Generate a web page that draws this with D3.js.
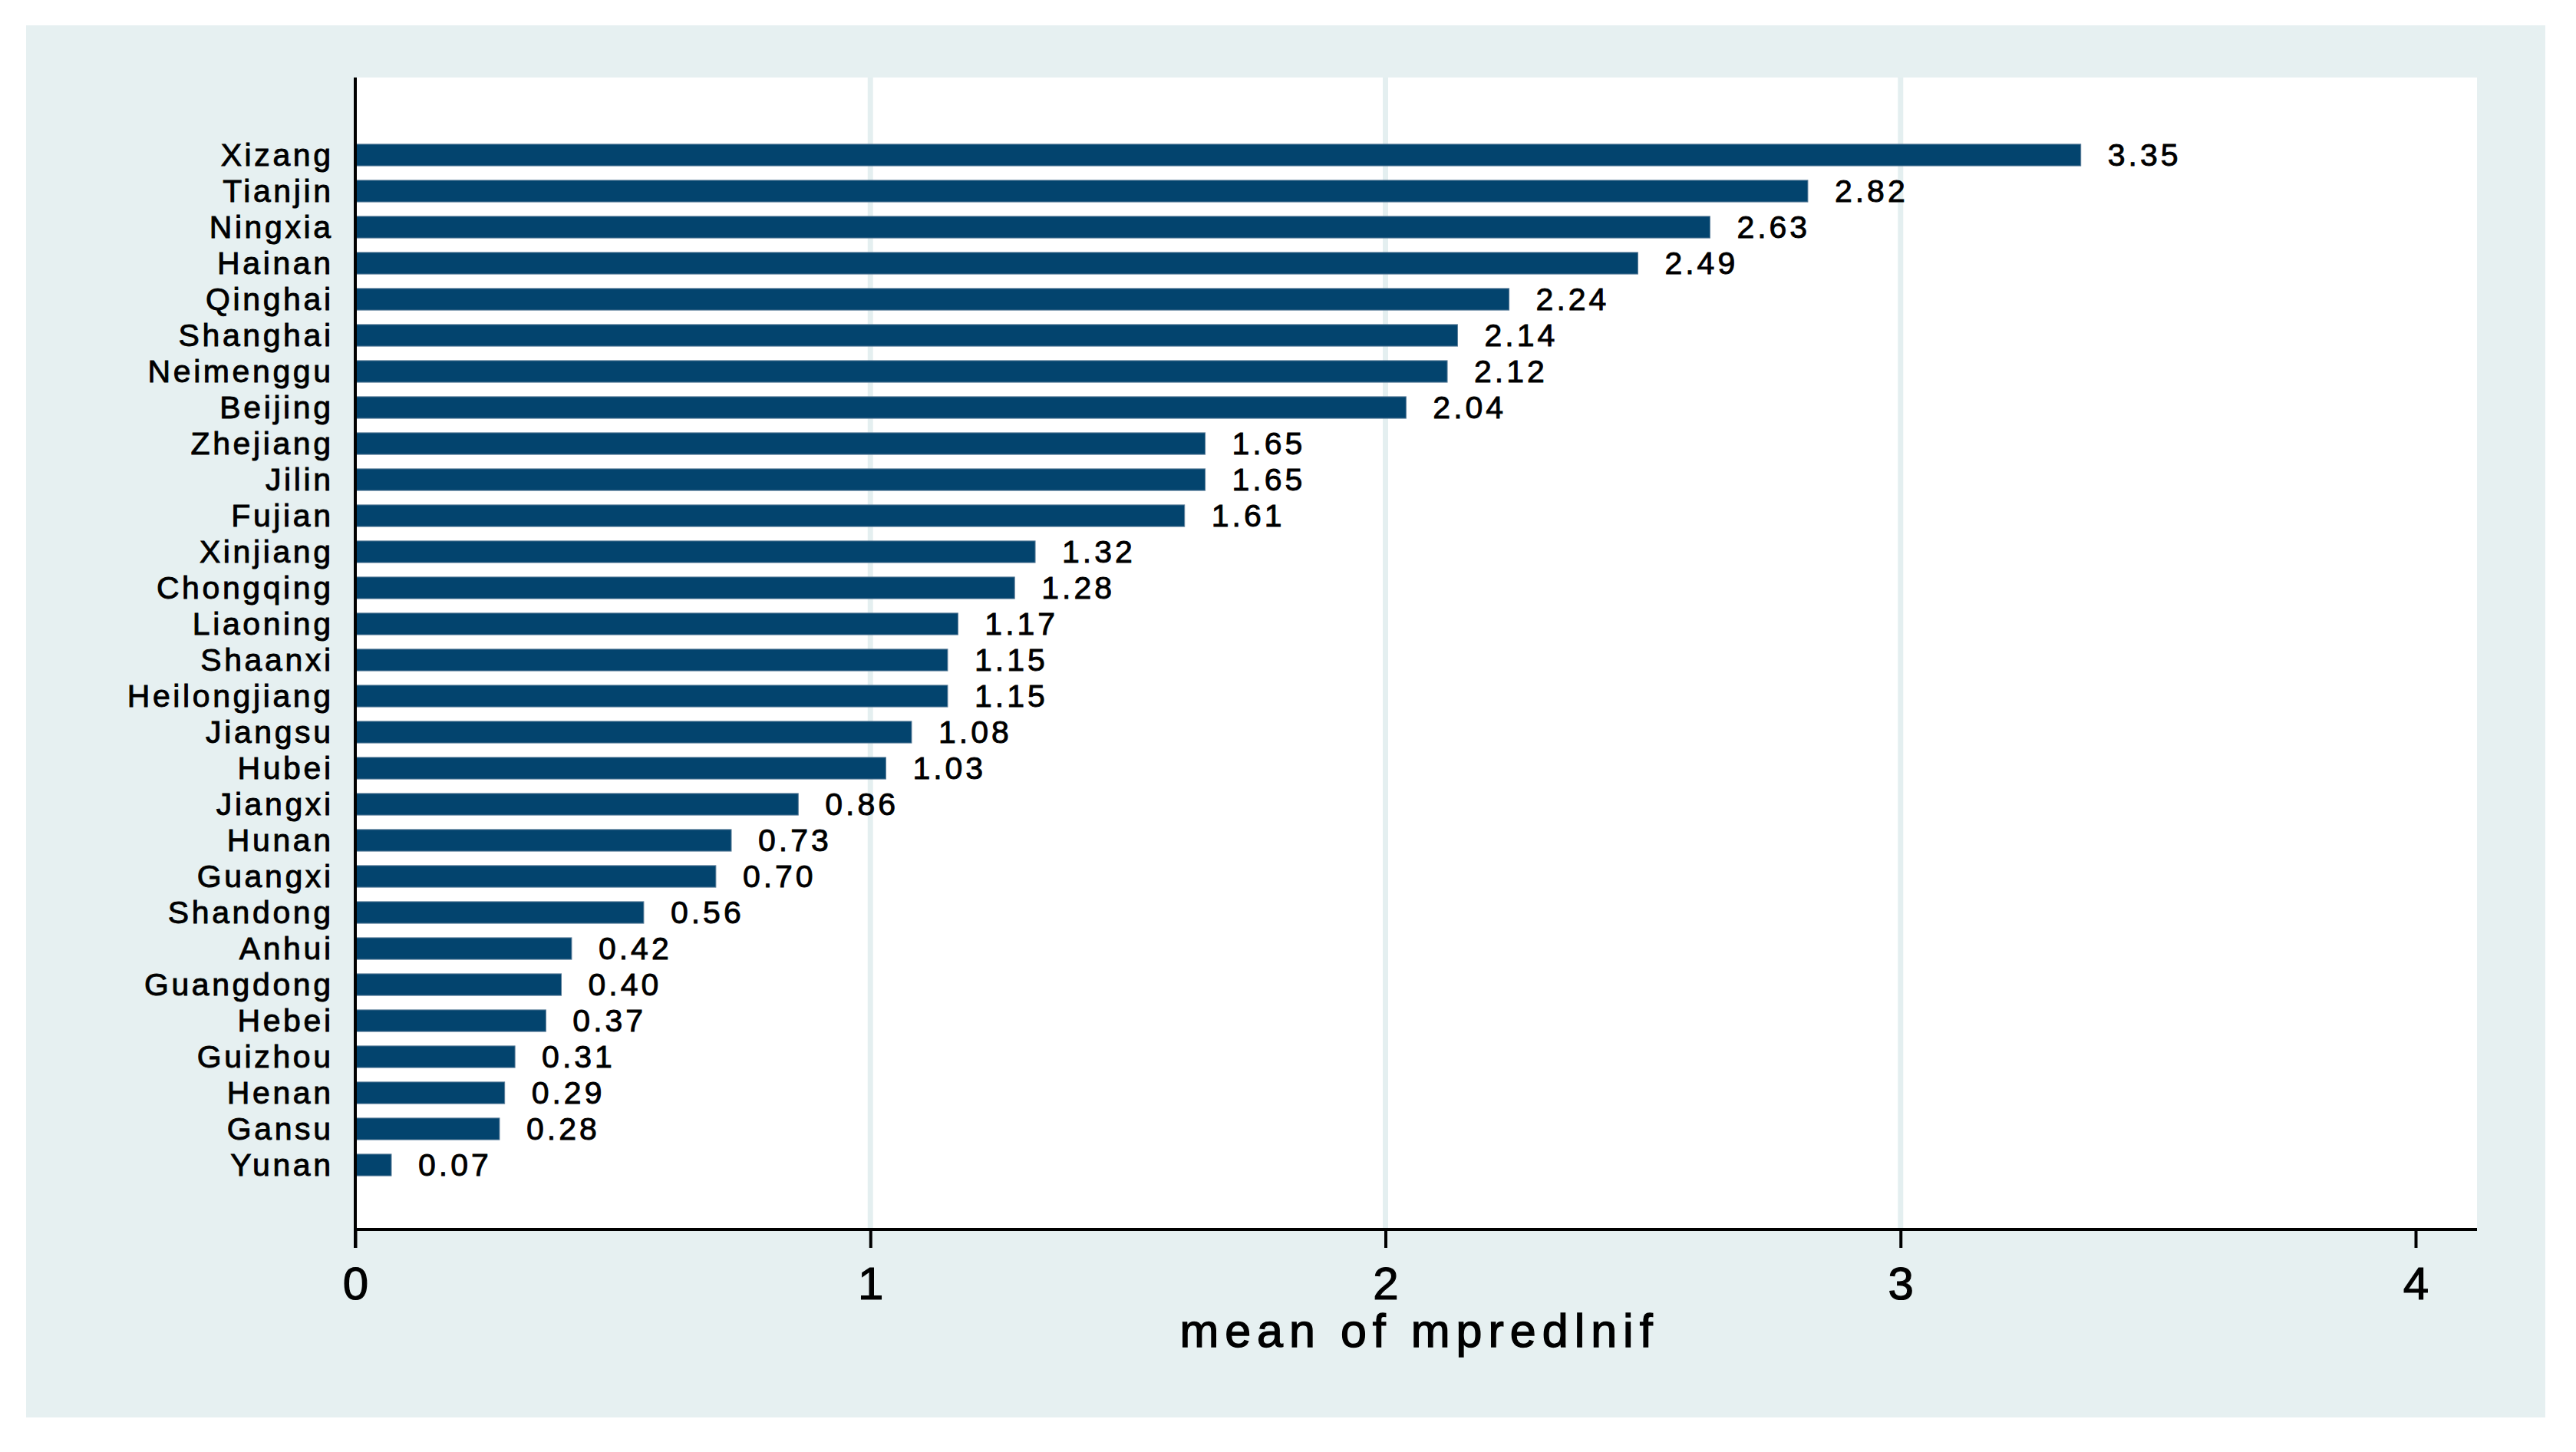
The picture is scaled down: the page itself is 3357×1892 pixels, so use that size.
<!DOCTYPE html>
<html>
<head>
<meta charset="utf-8">
<script src="https://cdn.jsdelivr.net/npm/d3@7"></script>
<style>
  html, body { margin: 0; padding: 0; background: #ffffff; }
  svg { display: block; }
  text { font-family: "Liberation Sans", Arial, sans-serif; fill: #000; }
</style>
</head>
<body>
<svg id="chart" width="3357" height="1892"></svg>
<script>
// ---- data ----
const provinces = ["Xizang","Tianjin","Ningxia","Hainan","Qinghai","Shanghai","Neimenggu","Beijing",
  "Zhejiang","Jilin","Fujian","Xinjiang","Chongqing","Liaoning","Shaanxi","Heilongjiang","Jiangsu",
  "Hubei","Jiangxi","Hunan","Guangxi","Shandong","Anhui","Guangdong","Hebei","Guizhou","Henan","Gansu","Yunan"];
const meanValues = [3.35,2.82,2.63,2.49,2.24,2.14,2.12,2.04,1.65,1.65,1.61,1.32,1.28,1.17,1.15,1.15,1.08,
  1.03,0.86,0.73,0.70,0.56,0.42,0.40,0.37,0.31,0.29,0.28,0.07];
const xTicks = [0,1,2,3,4];
const gridTicks = [1,2,3];
const xTitle = "mean of mpredlnif";

// ---- layout ----
const W = 3357, H = 1892;
const outer = {x0: 34, y0: 33, x1: 3317, y1: 1847};
const plot = {left: 463, right: 3228, top: 101, bottom: 1602};
const bgColor = "#e6f0f1";
const barColor = "#03446e";

const svg = d3.select("#chart");

svg.append("rect").attr("x", 0).attr("y", 0).attr("width", W).attr("height", H).attr("fill", "#fff");
svg.append("rect").attr("x", outer.x0).attr("y", outer.y0)
  .attr("width", outer.x1 - outer.x0).attr("height", outer.y1 - outer.y0).attr("fill", bgColor);
svg.append("rect").attr("x", plot.left).attr("y", plot.top)
  .attr("width", plot.right - plot.left).attr("height", plot.bottom - plot.top).attr("fill", "#fff");

const x = d3.scaleLinear().domain([0, 4]).range([463, 3148]);
const y = d3.scaleBand().domain(provinces).range([178.5, 1541.5]).paddingInner(0.4).paddingOuter(0.2);

// gridlines
svg.append("g").selectAll("line").data(gridTicks).join("line")
  .attr("x1", d => x(d)).attr("x2", d => x(d))
  .attr("y1", plot.top).attr("y2", plot.bottom - 2)
  .attr("stroke", "#e4eff0").attr("stroke-width", 7);

const data = provinces.map((p, i) => ({p, v: meanValues[i]}));

// bars
svg.append("g").selectAll("rect").data(data).join("rect")
  .attr("x", x(0)).attr("y", d => y(d.p))
  .attr("width", d => x(d.v) - x(0)).attr("height", y.bandwidth())
  .attr("fill", barColor).attr("stroke", "#5a7d99").attr("stroke-width", 1);

// value labels
svg.append("g").selectAll("text").data(data).join("text")
  .attr("x", d => x(d.v) + 35)
  .attr("y", d => y(d.p) + y.bandwidth() / 2 + 14)
  .attr("font-size", 41).attr("letter-spacing", "4px")
  .attr("stroke", "#000").attr("stroke-width", 0.9)
  .text(d => d.v.toFixed(2));

// category axis (left)
const yAxis = d3.axisLeft(y).tickSize(0).tickPadding(0);
const gy = svg.append("g").attr("transform", `translate(${plot.left},0)`).call(yAxis);
gy.select(".domain").remove();
gy.selectAll("text")
  .attr("font-family", "Liberation Sans, Arial, sans-serif")
  .attr("font-size", 41).attr("letter-spacing", "3.6px")
  .attr("stroke", "#000").attr("stroke-width", 0.9)
  .attr("x", -32 + 3.6).attr("dy", null).attr("y", 14)
  .attr("text-anchor", "end").attr("fill", "#000");

// left axis line
svg.append("line").attr("x1", plot.left).attr("x2", plot.left)
  .attr("y1", plot.top).attr("y2", plot.bottom + 24)
  .attr("stroke", "#000").attr("stroke-width", 4);

// bottom axis
const xAxis = d3.axisBottom(x).tickValues(xTicks).tickFormat(d3.format("d")).tickSize(24).tickSizeOuter(0);
const gx = svg.append("g").attr("transform", `translate(0,${plot.bottom})`).call(xAxis);
gx.select(".domain").attr("d", `M${plot.left},0H${plot.right}`).attr("stroke", "#000").attr("stroke-width", 4);
gx.selectAll(".tick line").attr("stroke", "#000").attr("stroke-width", 4);
gx.selectAll(".tick text")
  .attr("font-family", "Liberation Sans, Arial, sans-serif")
  .attr("font-size", 60).attr("fill", "#000")
  .attr("stroke", "#000").attr("stroke-width", 1.2)
  .attr("y", 91).attr("dy", null);

// axis title
svg.append("text")
  .attr("x", (plot.left + plot.right) / 2 + 4).attr("y", 1755)
  .attr("text-anchor", "middle").attr("font-size", 61).attr("letter-spacing", "8px")
  .attr("stroke", "#000").attr("stroke-width", 1.4)
  .text(xTitle);
</script>
</body>
</html>
